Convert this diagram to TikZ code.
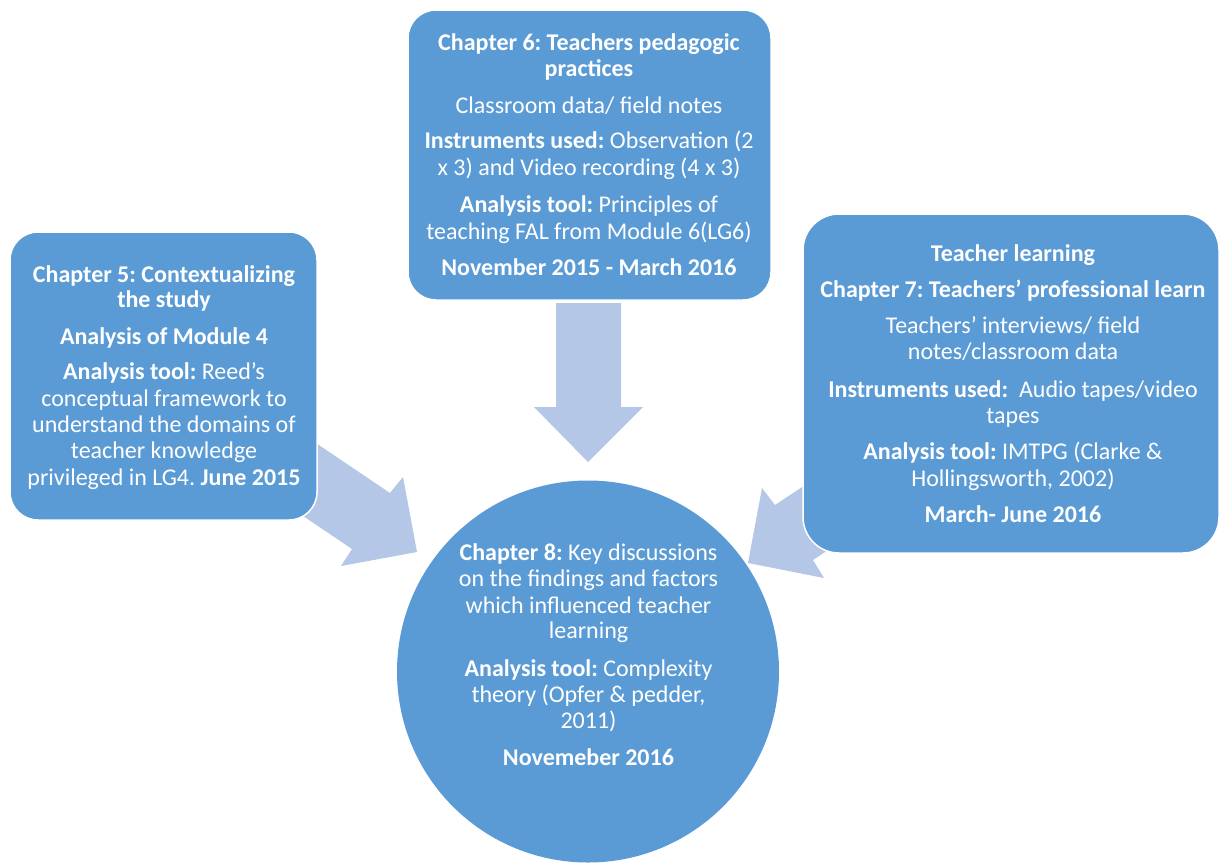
\documentclass[tikz,border=0pt]{standalone}
\usepackage{fontspec}
\setmainfont{Carlito}
\definecolor{boxblue}{HTML}{5B9BD5}
\definecolor{arrowblue}{HTML}{B4C7E7}
\begin{document}
\frenchspacing
\begin{tikzpicture}[x=1pt,y=-1pt,
  box/.style={rectangle,draw=white,line width=1.5pt,fill=boxblue,rounded corners=28pt,inner sep=0pt},
  ln/.style={anchor=base,inner sep=0pt,text=white,font=\fontsize{24}{27}\selectfont\frenchspacing},
  arr/.style={fill=arrowblue,draw=none}]
\useasboundingbox (0,0) rectangle (1220,863);
\clip (0,0) rectangle (1220,863);

% arrows (behind boxes)
\fill[arr] (556,303) -- (621,303) -- (621,407) -- (643,407) -- (588,462) -- (534,407) -- (556,407) -- cycle;
\fill[arr] (307,437) -- (390,493) -- (403,477) -- (417,552) -- (341,566) -- (352,549) -- (269,493) -- cycle;
\fill[arr] (858,450) -- (775,505) -- (762,488) -- (748,563) -- (824,578) -- (813,560) -- (896,505) -- cycle;

% boxes
\node[box,minimum width=363pt,minimum height=290pt] (top) at (589.5,155) {};
\node[box,minimum width=307pt,minimum height=288pt] (left) at (163.5,376) {};
\node[box,minimum width=416pt,minimum height=339pt,rounded corners=36pt] (right) at (1011,383.5) {};
\node[circle,draw=none,fill=boxblue,minimum size=382pt,inner sep=0pt] (circ) at (588,671.5) {};

% top box text
\node[ln] (t1) at (589,50) {\textbf{Chapter 6: Teachers pedagogic}};
\node[ln] (t2) at (589,76.5) {\textbf{practices}};
\node[ln] (t3) at (589,113) {Classroom data/ field notes};
\node[ln] (t4) at (589,148) {\textbf{Instruments used:} Observation (2};
\node[ln] (t5) at (589,175) {x 3) and Video recording (4 x 3)};
\node[ln] (t6) at (589,212) {\textbf{Analysis tool:} Principles of};
\node[ln] (t7) at (589,239) {teaching FAL from Module 6(LG6)};
\node[ln] (t8) at (589,275) {\textbf{November 2015 - March 2016}};

% left box text
\node[ln] (l1) at (164,282) {\textbf{Chapter 5: Contextualizing}};
\node[ln] (l2) at (164,307) {\textbf{the study}};
\node[ln] (l3) at (164,344) {\textbf{Analysis of Module 4}};
\node[ln] (l4) at (164,379) {\textbf{Analysis tool:} Reed’s};
\node[ln] (l5) at (164,406) {conceptual framework to};
\node[ln] (l6) at (164,432) {understand the domains of};
\node[ln] (l7) at (164,458) {teacher knowledge};
\node[ln] (l8) at (164,485) {privileged in LG4. \textbf{June 2015}};

% right box text
\node[ln] (r1) at (1013,261) {\textbf{Teacher learning}};
\node[ln] (r2) at (1013,297) {\textbf{Chapter 7: Teachers’ professional learn}};
\node[ln] (r3) at (1013,333) {Teachers’ interviews/ field};
\node[ln] (r4) at (1013,359) {notes/classroom data};
\node[ln] (r5) at (1013,397) {\textbf{Instruments used:}\ \ Audio tapes/video};
\node[ln] (r6) at (1013,423) {tapes};
\node[ln] (r7) at (1013,459) {\textbf{Analysis tool:} IMTPG (Clarke \&};
\node[ln] (r8) at (1013,486) {Hollingsworth, 2002)};
\node[ln] (r9) at (1013,522) {\textbf{March- June 2016}};

% circle text
\node[ln] (c1) at (588.5,560) {\textbf{Chapter 8:} Key discussions};
\node[ln] (c2) at (588.5,586) {on the findings and factors};
\node[ln] (c3) at (588.5,613) {which influenced teacher};
\node[ln] (c4) at (588.5,638) {learning};
\node[ln] (c5) at (588.5,676) {\textbf{Analysis tool:} Complexity};
\node[ln] (c6) at (588.5,702) {theory (Opfer \& pedder,};
\node[ln] (c7) at (588.5,728) {2011)};
\node[ln] (c8) at (588.5,765) {\textbf{Novemeber 2016}};
\end{tikzpicture}
\end{document}
